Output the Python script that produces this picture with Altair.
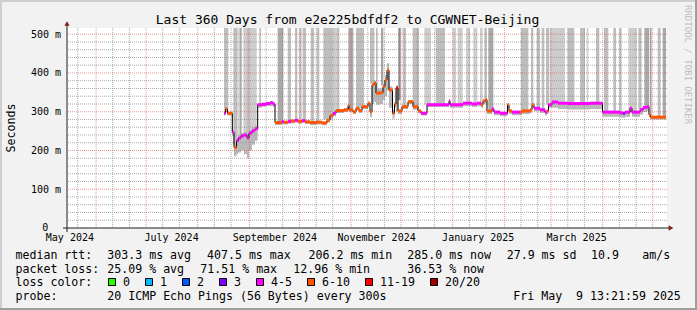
import altair as alt
import pandas as pd

MONO = "DejaVu Sans Mono"

# ---------------- values ----------------
START = "2024-05-14 13:22"          # left edge of the 360 day window
END = "2025-05-09 13:22"            # right edge (graph time stamp)
Y_TOP = 516                          # ms at the top of the plot

# median rtt: days since START, median (ms), loss class
med_day = [94.2, 95.1, 96.3, 99.2, 100.2, 101.7, 102.8, 104.4, 106.2, 108.0,
           109.2, 111.0, 112.8, 114.4, 117.0, 119.4, 121.8, 123.6, 124.8, 128.8,
           130.2, 132.6, 134.4, 136.8, 138.6, 141.0, 142.8, 145.8, 149.4, 153.0,
           156.0, 157.8, 159.6, 161.4, 166.2, 168.6, 169.2, 171.6, 173.4, 175.2,
           177.0, 180.6, 181.8, 183.0, 184.2, 185.4, 187.8, 189.6, 190.8, 192.0,
           193.2, 195.3, 196.5, 197.4, 198.6, 201.0, 204.6, 207.6, 210.6, 212.4,
           216.0, 229.2, 229.8, 237.6, 243.0, 246.0, 248.4, 249.6, 251.2, 252.0,
           255.0, 256.2, 259.8, 264.3, 265.2, 267.0, 271.8, 273.0, 277.8, 279.0,
           280.2, 283.8, 286.8, 288.0, 288.9, 291.0, 294.6, 300.6, 313.8, 321.3,
           331.8, 333.6, 334.8, 337.8, 339.0, 343.8, 345.6, 348.0, 349.2, 350.1]
med_last_day = 359.4
med_ms = [296, 307, 296, 247, 208, 225, 232, 238, 240, 232,
          245, 251, 256, 318, 319, 321, 323, 320, 272, 274,
          273, 275, 276, 278, 275, 277, 274, 272, 273, 271,
          278, 290, 296, 303, 305, 316, 305, 300, 309, 303,
          313, 322, 300, 369, 374, 348, 349, 365, 382, 407,
          356, 296, 320, 361, 302, 313, 326, 313, 302, 296,
          318, 328, 318, 322, 320, 322, 318, 328, 331, 302,
          307, 299, 296, 318, 302, 299, 299, 302, 305, 318,
          309, 305, 299, 302, 318, 325, 322, 321, 322, 299,
          297, 296, 299, 309, 299, 305, 311, 313, 292, 286]
med_loss = ["4-5", "6-10", "6-10", "4-5", "6-10", "4-5", "4-5", "4-5", "4-5", "4-5",
            "4-5", "4-5", "4-5", "4-5", "4-5", "4-5", "4-5", "4-5", "6-10", "4-5",
            "6-10", "4-5", "6-10", "4-5", "6-10", "4-5", "6-10", "6-10", "6-10", "6-10",
            "6-10", "6-10", "4-5", "6-10", "6-10", "6-10", "6-10", "6-10", "6-10", "6-10",
            "6-10", "6-10", "6-10", "6-10", "6-10", "6-10", "6-10", "6-10", "6-10", "6-10",
            "6-10", "6-10", "6-10", "11-19", "6-10", "6-10", "6-10", "6-10", "6-10", "4-5",
            "4-5", "4-5", "4-5", "4-5", "4-5", "4-5", "6-10", "6-10", "6-10", "6-10",
            "4-5", "4-5", "4-5", "6-10", "6-10", "4-5", "6-10", "6-10", "6-10", "6-10",
            "4-5", "4-5", "4-5", "6-10", "4-5", "4-5", "4-5", "4-5", "4-5", "4-5",
            "4-5", "3", "4-5", "4-5", "4-5", "4-5", "4-5", "4-5", "6-10", "6-10"]
# smoke spread around the median (ms below / ms above)
smoke_below = [6, 6, 6, 10, 23, 35, 37, 38, 50, 52,
               45, 36, 31, 8, 6, 6, 8, 8, 6, 6,
               6, 6, 6, 6, 6, 6, 6, 6, 6, 6,
               6, 8, 8, 6, 6, 6, 6, 6, 6, 6,
               6, 6, 14, 49, 49, 30, 29, 35, 42, 52,
               46, 14, 10, 61, 8, 6, 6, 6, 6, 6,
               6, 8, 8, 8, 8, 8, 8, 8, 8, 8,
               8, 8, 8, 8, 8, 8, 8, 8, 8, 8,
               8, 8, 8, 8, 8, 15, 15, 15, 15, 12,
               12, 12, 12, 12, 12, 12, 12, 12, 6, 6]
smoke_above = [4, 4, 4, 4, 8, 8, 8, 8, 8, 8,
               8, 8, 8, 4, 4, 4, 4, 4, 3, 3,
               3, 3, 3, 3, 3, 3, 3, 3, 3, 3,
               3, 3, 3, 3, 3, 3, 3, 3, 3, 3,
               3, 3, 3, 9, 6, 12, 11, 7, 13, 18,
               9, 9, 5, 7, 3, 3, 3, 3, 3, 3,
               3, 3, 3, 3, 3, 3, 3, 3, 3, 3,
               3, 3, 3, 3, 3, 3, 3, 3, 3, 3,
               3, 3, 3, 3, 3, 3, 3, 3, 3, 3,
               3, 3, 3, 3, 3, 3, 3, 3, 3, 3]

# tall smoke columns (outlier pings above the chart top): days since START, bottom ms, shade
bar_start = [94.2, 99.8, 102.8, 103.8, 105.8, 108.0, 115.4, 126.4, 132.4, 136.8,
             139.4, 141.4, 146.2, 149.8, 153.8, 159.4, 161.8, 168.8, 173.4, 181.8,
             185.4, 188.4, 198.8, 201.4, 207.4, 214.4, 221.2, 231.4, 234.4, 239.4,
             243.8, 247.8, 250.4, 252.8, 272.4, 278.4, 281.8, 284.8, 287.4, 289.8,
             300.4, 307.8, 311.8, 317.4, 322.2, 327.8, 331.4, 336.8, 342.8, 346.4,
             349.8, 354.4, 357.4]
bar_end = [96.8, 102.4, 103.8, 104.8, 113.8, 109.2, 116.4, 129.8, 134.4, 138.2,
           140.8, 143.4, 148.2, 151.4, 159.4, 161.8, 163.4, 171.8, 178.2, 184.4,
           186.4, 189.8, 200.2, 203.4, 211.2, 218.4, 226.8, 233.4, 237.4, 241.8,
           246.2, 249.4, 251.8, 255.8, 276.8, 279.8, 283.8, 286.4, 289.4, 298.8,
           304.4, 310.8, 312.8, 319.4, 324.8, 329.4, 332.8, 341.8, 344.8, 349.4,
           350.8, 356.2, 359.4]
bar_low = [300, 215, 232, 238, 245, 240, 320, 276, 277, 278,
           276, 276, 274, 274, 280, 300, 305, 306, 310, 372,
           350, 368, 330, 315, 305, 318, 320, 320, 322, 322,
           322, 320, 331, 305, 302, 318, 307, 302, 318, 323,
           322, 322, 322, 322, 299, 299, 298, 300, 305, 313,
           290, 286, 286]
bar_shade = ["mid", "mid", "light", "dark", "light", "mid", "mid", "dark", "mid", "mid",
             "mid", "mid", "mid", "mid", "mid", "light", "mid", "dark", "mid", "mid",
             "mid", "dark", "darker", "mid", "mid", "light", "mid", "light", "light", "light",
             "light", "light", "mid", "dark", "mid", "mid", "mid", "mid", "mid", "light",
             "mid", "mid", "light", "mid", "mid", "mid", "mid", "light", "mid", "dark",
             "dark", "mid", "dark"]

loss_labels = ["0", "1", "2", "3", "4-5", "6-10", "11-19", "20/20"]
loss_colors = ["#26ff00", "#00b8ff", "#0059ff", "#7e00ff", "#ff00ff", "#ff5500", "#ff0000", "#a10000"]
shade_names = ["light", "mid", "dark", "darker"]
shade_colors = ["#cdcdcd", "#bebebe", "#a9a9a9", "#8c8c8c"]

y_ticks = [100, 200, 300, 400, 500]
x_label_dates = ["2024-05-16", "2024-07-16", "2024-09-16", "2024-11-16", "2025-01-16", "2025-03-16"]

title_text = "Last 360 Days from e2e225bdfdf2 to CGWNET-Beijing"
rtt_stats = ["303.3 ms avg", "407.5 ms max", "206.2 ms min", "285.0 ms now", "27.9 ms sd", "10.9", "am/s"]
loss_stats = ["25.09 % avg", "71.51 % max", "12.96 % min", "36.53 % now"]
probe_text = "20 ICMP Echo Pings (56 Bytes) every 300s"
stamp_text = "Fri May\u00a0\u00a09 13:21:59 2025"
watermark = "RRDTOOL / TOBI OETIKER"

# ---------------- helpers ----------------
t0 = pd.Timestamp(START)
t1 = pd.Timestamp(END)


def when(days):
    t = t0 + pd.to_timedelta(pd.Series(days, dtype="float64"), unit="D")
    return t.dt.round("min").dt.strftime("%Y-%m-%dT%H:%M:%S")


def dt(ts):
    return alt.DateTime(year=ts.year, month=ts.month, date=ts.day, hours=ts.hour, minutes=ts.minute)


xs = alt.Scale(domain=[dt(t0), dt(t1)], nice=False)
ys = alt.Scale(domain=[0, Y_TOP], nice=False, zero=True)

xaxis = alt.Axis(values=[dt(pd.Timestamp(d)) for d in x_label_dates], format="%B %Y",
                 labelFont=MONO, labelFontSize=10, labelColor="#000000",
                 labelFlush=False, labelOverlap=False, labelBound=False,
                 labelBaseline="alphabetic", labelPadding=12.5,
                 ticks=False, tickSize=0, domain=False, grid=False, title=None)
yaxis = alt.Axis(values=y_ticks, labelExpr="datum.value + ' m'",
                 labelFont=MONO, labelFontSize=10, labelColor="#000000",
                 labelPadding=6.5, ticks=False, tickSize=0, domain=False, grid=False, title=None)


def X(f):
    return alt.X(f"{f}:T", scale=xs, axis=xaxis)


def Y(f):
    return alt.Y(f"{f}:Q", scale=ys, axis=yaxis)


OX, OY = 67, 28  # plot origin inside the 697x310 canvas
dummy = pd.DataFrame({"k": [0]})


def text(s, x, y, size=11.6, color="#000000", angle=0, align="left", baseline="alphabetic"):
    return alt.Chart(dummy).mark_text(text=s, font=MONO, fontSize=size, color=color, angle=angle,
                                      align=align, baseline=baseline).encode(
        x=alt.value(x - OX), y=alt.value(y - OY))


def box(x0, y0, x1, y1, fill, stroke=None):
    kw = dict(fill=fill)
    if stroke:
        kw.update(stroke=stroke, strokeWidth=1)
    return alt.Chart(dummy).mark_rect(**kw).encode(
        x=alt.value(x0 - OX), x2=alt.value(x1 - OX), y=alt.value(y0 - OY), y2=alt.value(y1 - OY))


# ---------------- data tables ----------------
med = pd.DataFrame({"t": when(med_day), "t2": when(med_day[1:] + [med_last_day]),
                    "ms": med_ms, "loss": med_loss})
steps = pd.DataFrame({
    "t": when(med_day + [med_last_day]),
    "ms": med_ms + [med_ms[-1]],
    "lo": [m - b for m, b in zip(med_ms, smoke_below)] + [med_ms[-1] - smoke_below[-1]],
    "hi": [m + a for m, a in zip(med_ms, smoke_above)] + [med_ms[-1] + smoke_above[-1]],
})
bars = pd.DataFrame({"t": when(bar_start), "t2": when(bar_end), "low": bar_low,
                     "top": [Y_TOP] * len(bar_low), "shade": bar_shade})

major_t = pd.date_range("2024-06-01", "2025-05-01", freq="MS").strftime("%Y-%m-%dT00:00:00")
minor_t = [d.strftime("%Y-%m-%dT00:00:00") for d in pd.date_range("2024-05-15", "2025-05-09", freq="D")
           if d.day in (11, 21)]
h_major = [100, 200, 300, 400, 500]
h_minor = [v for v in range(20, 520, 20) if v % 100]

GRID = dict(color="#8f8f8f", opacity=0.75, strokeDash=[1, 1], strokeWidth=1)
MGRID = dict(color="#de4f4f", opacity=0.6, strokeDash=[1, 1], strokeWidth=1)

layers = []
layers.append(alt.Chart(bars).mark_rect().encode(
    x=X("t"), x2="t2", y=Y("low"), y2="top",
    color=alt.Color("shade:N", scale=alt.Scale(domain=shade_names, range=shade_colors), legend=None)))
layers.append(alt.Chart(steps).mark_area(interpolate="step-after", color="#b9b9b9").encode(
    x=X("t"), y=Y("lo"), y2="hi"))
layers.append(alt.Chart(pd.DataFrame({"t": minor_t})).mark_rule(**GRID).encode(x=X("t")))
layers.append(alt.Chart(pd.DataFrame({"v": h_minor})).mark_rule(**GRID).encode(y=Y("v")))
layers.append(alt.Chart(pd.DataFrame({"t": list(major_t)})).mark_rule(**MGRID).encode(x=X("t")))
layers.append(alt.Chart(pd.DataFrame({"v": h_major})).mark_rule(**MGRID).encode(y=Y("v")))
layers.append(alt.Chart(steps).mark_line(interpolate="step-after", color="#000000", strokeWidth=1).encode(
    x=X("t"), y=Y("ms")))
layers.append(alt.Chart(med).mark_rule(strokeWidth=3).encode(
    x=X("t"), x2="t2", y=Y("ms"),
    color=alt.Color("loss:N", scale=alt.Scale(domain=loss_labels, range=loss_colors), legend=None)))

# axes lines and arrows
layers.append(alt.Chart(dummy).mark_rule(color="#1f1f1f", strokeWidth=1).encode(
    x=alt.value(0), y=alt.value(-4), y2=alt.value(204)))
layers.append(alt.Chart(dummy).mark_rule(color="#1f1f1f", strokeWidth=1).encode(
    x=alt.value(-4), x2=alt.value(604), y=alt.value(200)))
layers.append(alt.Chart(dummy).mark_point(shape="triangle-up", filled=True, size=28, color="#801f1f",
                                          opacity=1).encode(x=alt.value(0), y=alt.value(-4.5)))
layers.append(alt.Chart(dummy).mark_point(shape="triangle-right", filled=True, size=28, color="#801f1f",
                                          opacity=1).encode(x=alt.value(604), y=alt.value(200)))
# zero label of the value axis (rrdtool prints it without the unit, left of the unit column)
layers.append(text("0", 48.2, 228.3, size=10, align="right", baseline="middle"))

# frame shading
layers.append(box(0, 0, 697, 2, "#cfcfcf"))
layers.append(box(0, 0, 2, 310, "#cfcfcf"))
layers.append(box(0, 308, 697, 310, "#9e9e9e"))
layers.append(box(695, 0, 697, 310, "#9e9e9e"))

# titles
layers.append(text(title_text, 347.5, 24, size=13, align="center"))
layers.append(text("Seconds", 15, 128, angle=270, align="center"))
layers.append(text(watermark, 684.5, 5, size=9, color="#bdbdbd", angle=90))

# legend block
rows = [
    (258.5, ["median rtt:"] + rtt_stats, [15.5, 107.3, 207.0, 308.5, 407.3, 506.7, 591.0, 642.3]),
    (272.5, ["packet loss:"] + loss_stats, [15.5, 107.3, 200.3, 293.3, 407.3]),
    (300.0, ["probe:", probe_text, stamp_text], [15.5, 107.3, 513.3]),
]
for y, items, xs_ in rows:
    for s, x in zip(items, xs_):
        layers.append(text(s, x, y))

layers.append(text("loss color:", 15.5, 286.2))
bx = 108.5
for lab, col in zip(loss_labels, loss_colors):
    layers.append(box(bx, 278.5, bx + 7, 285.5, col, stroke="#000000"))
    layers.append(text(lab, bx + 14.5, 286.2))
    bx += 30 + 7 * len(lab)

chart = alt.layer(*layers).properties(
    width=600, height=200,
    padding={"left": 67, "top": 28, "right": 30, "bottom": 82},
    autosize=alt.AutoSizeParams(type="none"),
    background="#f2f2f2",
).resolve_scale(color="independent").configure_view(fill="white", strokeWidth=0)

chart.save("out.html", embed_options={"renderer": "svg", "actions": False})
